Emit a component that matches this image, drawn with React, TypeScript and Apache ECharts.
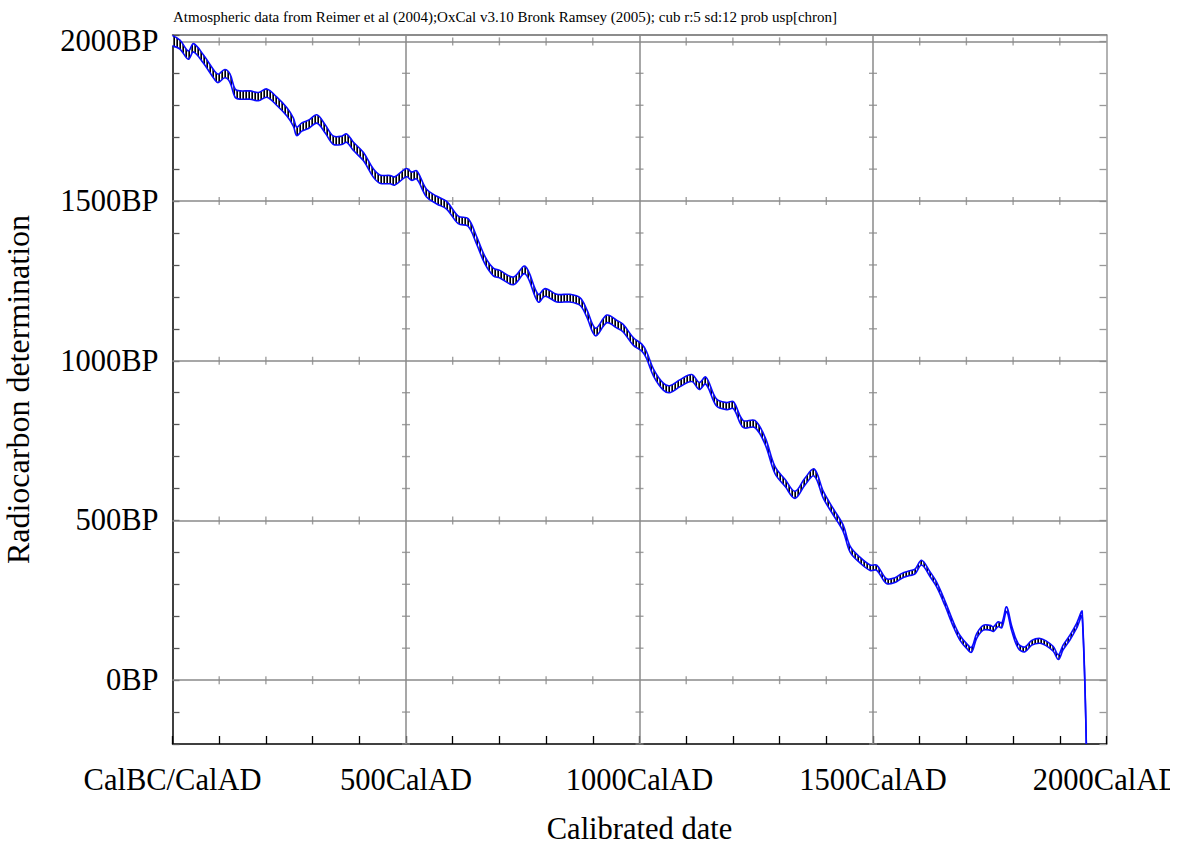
import React, { useEffect, useRef } from 'react';
import * as echarts from 'echarts';

// Calibrated date (AD) of each curve sample
const years = [
  0, 16, 34, 45, 66, 91, 98, 112, 123, 134, 145, 166, 184, 202, 223, 245, 259, 266, 277, 291,
  309, 327, 344, 362, 373, 387, 409, 430, 444, 466, 476, 501, 512, 523, 544, 566, 587, 612, 633, 651,
  669, 687, 701, 730, 755, 783, 798, 823, 851, 873, 887, 906, 930, 951, 965, 987, 1005, 1015, 1030, 1051,
  1065, 1087, 1112, 1128, 1142, 1165, 1187, 1201, 1222, 1247, 1269, 1290, 1312, 1333, 1354, 1374, 1394, 1415, 1436, 1451,
  1472, 1494, 1508, 1529, 1547, 1561, 1579, 1590, 1604, 1622, 1636, 1654, 1672, 1686, 1701, 1711, 1722, 1736, 1751, 1758,
  1768, 1776, 1786, 1797, 1811, 1825, 1840, 1858, 1872, 1886, 1897, 1907, 1922, 1936, 1948, 1960,
];
// Radiocarbon determination (BP), curve centre
const radiocarbonBP = [
  2002, 1990, 1957, 1980, 1945, 1892, 1884, 1899, 1885, 1838, 1832, 1832, 1827, 1838, 1813, 1779, 1747, 1718, 1732, 1740,
  1757, 1726, 1691, 1690, 1697, 1672, 1639, 1588, 1569, 1567, 1563, 1589, 1578, 1582, 1525, 1503, 1487, 1441, 1433, 1378,
  1315, 1278, 1271, 1250, 1284, 1196, 1214, 1196, 1196, 1185, 1149, 1090, 1131, 1115, 1102, 1060, 1041, 1018, 963, 919,
  911, 930, 946, 921, 938, 869, 858, 861, 802, 802, 749, 658, 617, 580, 621, 650, 579, 527, 476, 410,
  376, 352, 352, 310, 313, 326, 335, 340, 368, 332, 300, 241, 175, 133, 106, 95, 138, 164, 164, 160,
  175, 172, 222, 162, 107, 96, 117, 123, 114, 98, 72, 102, 134, 170, 207, -500,
];
// Half-width of the band (BP)
const errorBP = [
  16, 14, 13, 13, 13, 13, 13, 13, 13, 13, 13, 13, 13, 13, 13, 13, 13, 13, 13, 13,
  13, 13, 13, 13, 13, 13, 13, 13, 13, 13, 13, 13, 13, 13, 12, 12, 12, 12, 12, 12,
  12, 12, 12, 12, 12, 12, 12, 12, 12, 12, 12, 12, 12, 12, 12, 12, 11, 11, 11, 11,
  11, 11, 11, 11, 11, 11, 11, 11, 11, 11, 11, 11, 11, 11, 11, 11, 11, 10, 10, 9.5,
  9, 8.5, 8, 7.5, 7.5, 7.5, 7.5, 7.5, 7.5, 7.5, 7.5, 7.5, 7.5, 7.5, 7.5, 7.5, 7.5, 7.5, 7.5, 7.5,
  7.5, 7.5, 7.5, 7.5, 7.5, 7.5, 7.5, 7.5, 7.5, 7.5, 7.5, 7.5, 7.5, 7.5, 7, 1,
];

const xMajorTicks = [0, 500, 1000, 1500, 2000];
const xTickLabels = ['CalBC/CalAD', '500CalAD', '1000CalAD', '1500CalAD', '2000CalAD'];
const yMajorTicks = [0, 500, 1000, 1500, 2000];
const yTickLabels = ['0BP', '500BP', '1000BP', '1500BP', '2000BP'];
const minorStep = 100;

const TITLE =
  'Atmospheric data from Reimer et al (2004);OxCal v3.10 Bronk Ramsey (2005); cub r:5 sd:12 prob usp[chron]';

const FONT = "'Liberation Serif', 'Times New Roman', serif";
const BLUE = '#0a0aff';
const GRID = '#8a8a8a';
const SMOOTH = 0.35;

export default function App() {
  const ref = useRef<HTMLDivElement>(null);
  useEffect(() => {
    if (!ref.current) return;
    const chart = echarts.init(ref.current, undefined, { renderer: 'svg' });

    const c = document.createElement('canvas');
    c.width = 3;
    c.height = 4;
    const ctx = c.getContext('2d')!;
    ctx.fillStyle = '#ffffff';
    ctx.fillRect(0, 0, 3, 4);
    ctx.fillStyle = '#000000';
    ctx.fillRect(0, 0, 1, 4);
    ctx.fillStyle = '#5a5a5a';
    ctx.fillRect(2, 0, 1, 4);
    const pattern: any = { image: c, repeat: 'repeat', imageWidth: 3, imageHeight: 4 };

    // crossing tick marks along the major grid lines
    const hTickMarks: number[][] = [];
    for (const yv of yMajorTicks) {
      for (let xv = minorStep; xv < 2000; xv += minorStep) {
        if (!xMajorTicks.includes(xv)) hTickMarks.push([xv, yv]);
      }
    }
    const vTickMarks: number[][] = [];
    for (const xv of xMajorTicks.slice(1, -1)) {
      for (let yv = -200; yv <= 2000; yv += minorStep) {
        if (!yMajorTicks.includes(yv)) vTickMarks.push([xv, yv]);
      }
    }

    const xLabel = (v: number) => {
      const i = xMajorTicks.indexOf(v);
      return i >= 0 ? xTickLabels[i] : '';
    };
    const yLabel = (v: number) => {
      const i = yMajorTicks.indexOf(v);
      return i >= 0 ? yTickLabels[i] : '';
    };

    chart.setOption({
      animation: false,
      backgroundColor: '#ffffff',
      title: {
        text: TITLE,
        left: 173,
        top: 9,
        padding: 0,
        textStyle: { fontFamily: FONT, fontSize: 15, fontWeight: 'normal', color: '#000', lineHeight: 15 },
      },
      grid: {
        left: 172.5,
        right: 63.5,
        top: 35,
        bottom: 99,
        containLabel: false,
        outerBoundsMode: 'none',
      },
      xAxis: [
        {
          type: 'value',
          min: 0,
          max: 2000,
          interval: minorStep,
          position: 'bottom',
          axisLine: { show: true, onZero: false, lineStyle: { color: '#000', width: 1.5 } },
          axisTick: { show: true, inside: true, length: 8, lineStyle: { color: '#000', width: 1.3 } },
          axisLabel: {
            show: true,
            margin: 20.5,
            fontFamily: FONT,
            fontSize: 30.5,
            color: '#000',
            formatter: xLabel,
            showMinLabel: true,
            showMaxLabel: true,
          },
          splitLine: { show: false },
          name: 'Calibrated date',
          nameLocation: 'middle',
          nameGap: 75,
          nameTextStyle: { fontFamily: FONT, fontSize: 30.5, color: '#000', lineHeight: 20 },
        },
        {
          type: 'value',
          min: 0,
          max: 2000,
          position: 'top',
          axisLine: { show: true, onZero: false, lineStyle: { color: '#666', width: 1.5 } },
          axisTick: { show: false },
          axisLabel: { show: false },
          splitLine: { show: false },
        },
      ],
      yAxis: [
        {
          type: 'value',
          min: -200,
          max: 2020,
          interval: minorStep,
          position: 'left',
          axisLine: { show: true, onZero: false, lineStyle: { color: '#000', width: 1.5 } },
          axisTick: { show: true, inside: true, length: 7, lineStyle: { color: '#555', width: 1.3 } },
          axisLabel: {
            show: true,
            margin: 14,
            fontFamily: FONT,
            fontSize: 30.5,
            color: '#000',
            formatter: yLabel,
          },
          splitLine: { show: false },
          name: 'Radiocarbon determination',
          nameLocation: 'middle',
          nameGap: 143,
          nameTextStyle: { fontFamily: FONT, fontSize: 32, color: '#000', lineHeight: 24 },
        },
        {
          type: 'value',
          min: -200,
          max: 2020,
          interval: minorStep,
          position: 'right',
          axisLine: { show: true, onZero: false, lineStyle: { color: '#999', width: 1.5 } },
          axisTick: { show: true, inside: true, length: 7, lineStyle: { color: '#999', width: 1.3 } },
          axisLabel: { show: false },
          splitLine: { show: false },
        },
      ],
      series: [
        {
          type: 'scatter',
          name: 'hTicks',
          silent: true,
          symbol: 'rect',
          symbolSize: [1.4, 8],
          itemStyle: { color: GRID },
          data: hTickMarks,
          z: 1,
          markLine: {
            silent: true,
            symbol: ['none', 'none'],
            label: { show: false },
            lineStyle: { color: GRID, width: 1.5, type: 'solid' },
            data: [
              ...yMajorTicks.map((v) => ({ yAxis: v })),
              ...xMajorTicks.slice(1, -1).map((v) => ({ xAxis: v })),
            ],
          },
        },
        {
          type: 'scatter',
          name: 'vTicks',
          silent: true,
          symbol: 'rect',
          symbolSize: [8, 1.4],
          itemStyle: { color: GRID },
          data: vTickMarks,
          z: 1,
        },
        {
          type: 'custom',
          name: 'calibration curve',
          clip: true,
          z: 5,
          data: years.map((x, i) => [x, radiocarbonBP[i], errorBP[i]]),
          renderItem: (params: any, api: any) => {
            if (params.dataIndex !== 0) return { type: 'group', children: [] };
            const up = years.map((x, i) => api.coord([x, radiocarbonBP[i] + errorBP[i]]));
            const lo = years.map((x, i) => api.coord([x, radiocarbonBP[i] - errorBP[i]]));
            return {
              type: 'group',
              children: [
                {
                  type: 'polygon',
                  shape: { points: up.concat(lo.slice().reverse()), smooth: SMOOTH },
                  style: { fill: pattern, stroke: null },
                },
                {
                  type: 'polyline',
                  shape: { points: up, smooth: SMOOTH },
                  style: { fill: null, stroke: BLUE, lineWidth: 1.6 },
                },
                {
                  type: 'polyline',
                  shape: { points: lo, smooth: SMOOTH },
                  style: { fill: null, stroke: BLUE, lineWidth: 1.6 },
                },
              ],
            };
          },
        },
      ],
    });
    return () => chart.dispose();
  }, []);
  return (
    <div
      ref={ref}
      style={{ position: 'absolute', left: 0, top: 0, width: 1170, height: 843, background: '#fff' }}
    />
  );
}
